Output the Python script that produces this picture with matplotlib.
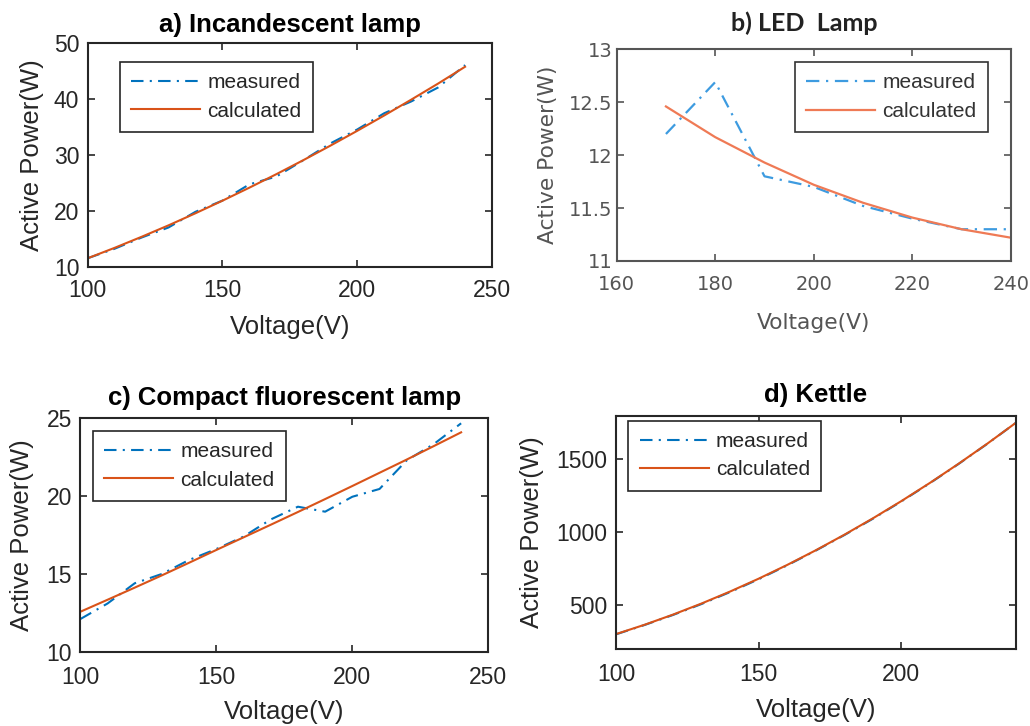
import matplotlib
matplotlib.use("Agg")
import matplotlib.pyplot as plt

plt.rcParams['font.family'] = ['Liberation Sans', 'DejaVu Sans']

# ---------------- data ----------------
V_inc = [100, 110, 120, 130, 140, 150, 160, 170, 180, 190, 200, 210, 220, 230, 240]
P_inc_meas = [11.5, 13.2, 15.2, 17.0, 19.8, 21.8, 24.7, 26.1, 29.0, 32.0, 34.5, 37.4, 39.5, 42.0, 46.0]
P_inc_calc = [11.5, 13.36, 15.33, 17.38, 19.54, 21.78, 24.11, 26.52, 29.02, 31.6, 34.26, 37.0, 39.82, 42.7, 45.7]

V_led = [170, 180, 190, 200, 210, 220, 230, 240]
P_led_meas = [12.2, 12.69, 11.8, 11.7, 11.52, 11.4, 11.3, 11.3]
P_led_calc = [12.46, 12.17, 11.93, 11.72, 11.55, 11.41, 11.30, 11.22]

V_cfl = [100, 110, 120, 130, 140, 150, 160, 170, 180, 190, 200, 210, 220, 230, 240]
P_cfl_meas = [12.1, 13.1, 14.4, 15.0, 15.9, 16.6, 17.4, 18.5, 19.32, 19.0, 19.96, 20.46, 22.3, 23.35, 24.68]
P_cfl_calc = [12.57, 13.34, 14.12, 14.91, 15.72, 16.54, 17.35, 18.16, 18.98, 19.81, 20.65, 21.5, 22.35, 23.22, 24.1]

V_ket = [100, 110, 120, 130, 140, 150, 160, 170, 180, 190, 200, 210, 220, 230, 240]
P_ket_meas = [302, 366, 435, 510, 592, 680, 775, 876, 982, 1094, 1213, 1338, 1469, 1606, 1750]
P_ket_calc = [303.8, 367.6, 437.5, 513.5, 595.5, 683.6, 777.8, 878.0, 984.4, 1096.8, 1215.3, 1339.8, 1470.5, 1607.2, 1750.0]

titles = ["a) Incandescent lamp", "b) LED  Lamp", "c) Compact fluorescent lamp", "d) Kettle"]
xlabel = "Voltage(V)"
ylabel = "Active Power(W)"
legend_labels = ["measured", "calculated"]

BLUE = "#0072BD"
ORANGE = "#D95319"
DARK = "#262626"
DASHDOT = (0, (6, 3, 1, 3))

fig = plt.figure(figsize=(10.3, 7.26), dpi=100)

def style(ax, fc=DARK, fs=16.5, lfs=18.5, xpad=9, ypad=6, xlp=9, ylp=7):
    ax.tick_params(direction='in', top=True, right=True, length=5, width=1.2,
                   labelsize=fs, colors=fc)
    ax.tick_params(axis='x', pad=xpad)
    ax.tick_params(axis='y', pad=ypad)
    for s in ax.spines.values():
        s.set_linewidth(1.5)
        s.set_color(fc)
    ax.set_xlabel(xlabel, fontsize=lfs, color=fc, labelpad=xlp)
    ax.set_ylabel(ylabel, fontsize=lfs, color=fc, labelpad=ylp)

def legend(ax, loc, anchor, fc=DARK, fs=15):
    leg = ax.legend(legend_labels, loc=loc, bbox_to_anchor=anchor, fontsize=fs,
                    fancybox=False, edgecolor=fc, framealpha=1, handlelength=3.3,
                    borderpad=0.55, labelspacing=0.45, handletextpad=0.35,
                    borderaxespad=0)
    leg.get_frame().set_linewidth(1.2)
    for t in leg.get_texts():
        t.set_color(fc)

# a)
ax = fig.add_axes([0.0851, 0.6327, 0.3926, 0.3085])
ax.plot(V_inc, P_inc_meas, color=BLUE, lw=1.5, ls=DASHDOT)
ax.plot(V_inc, P_inc_calc, color=ORANGE, lw=1.5)
ax.set_xlim(100, 250)
ax.set_ylim(10, 50)
ax.set_xticks([100, 150, 200, 250])
ax.set_yticks([10, 20, 30, 40, 50])
style(ax, xlp=9)
ax.set_title(titles[0], fontsize=18.5, fontweight='bold', pad=8)
legend(ax, 'upper left', (0.08, 0.915))

# b)
LB = "#3d9be0"
LO = "#ef7a55"
GREY = "#555555"
ax = fig.add_axes([0.5987, 0.6405, 0.3828, 0.2916])
ax.plot(V_led, P_led_meas, color=LB, lw=1.6, ls=DASHDOT)
ax.plot(V_led, P_led_calc, color=LO, lw=1.6)
ax.set_xlim(160, 240)
ax.set_ylim(11, 13)
ax.set_xticks([160, 180, 200, 220, 240])
ax.set_yticks([11, 11.5, 12, 12.5, 13])
ax.set_yticklabels(["11", "11.5", "12", "12.5", "13"])
style(ax, fc=GREY, fs=14, lfs=15.7, xpad=10, ypad=3, xlp=14, ylp=8)
for lab in ax.get_xticklabels() + ax.get_yticklabels():
    lab.set_family(['DejaVu Sans'])
ax.xaxis.label.set_family(['DejaVu Sans'])
ax.yaxis.label.set_family(['DejaVu Sans'])
ax.set_title(titles[1], fontsize=18, fontweight='bold', pad=13, x=0.475,
             family=['Lato', 'DejaVu Sans'], color="#222222")
legend(ax, 'upper right', (0.942, 0.94), fc="#333333")

# c)
ax = fig.add_axes([0.078, 0.1023, 0.3961, 0.3215])
ax.plot(V_cfl, P_cfl_meas, color=BLUE, lw=1.5, ls=DASHDOT)
ax.plot(V_cfl, P_cfl_calc, color=ORANGE, lw=1.5)
ax.set_xlim(100, 250)
ax.set_ylim(10, 25)
ax.set_xticks([100, 150, 200, 250])
ax.set_yticks([10, 15, 20, 25])
style(ax, xpad=10, xlp=8.5, ylp=9)
ax.set_title(titles[2], fontsize=18.5, fontweight='bold', pad=9.5)
legend(ax, 'upper left', (0.03, 0.947))

# d)
ax = fig.add_axes([0.598, 0.1057, 0.388, 0.3217])
ax.plot(V_ket, P_ket_meas, color=BLUE, lw=1.5, ls=DASHDOT)
ax.plot(V_ket, P_ket_calc, color=ORANGE, lw=1.5)
ax.set_xlim(100, 240)
ax.set_ylim(200, 1800)
ax.set_xticks([100, 150, 200])
ax.set_yticks([500, 1000, 1500])
style(ax, xpad=10, xlp=8.5, ylp=9)
ax.set_title(titles[3], fontsize=18.5, fontweight='bold', pad=10)
legend(ax, 'upper left', (0.031, 0.979))

fig.savefig("out.png", dpi=100)
